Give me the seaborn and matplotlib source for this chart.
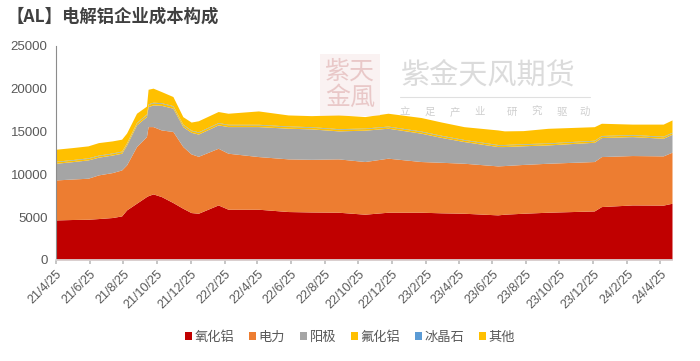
import matplotlib
matplotlib.use("Agg")
import matplotlib.pyplot as plt
import matplotlib.dates as mdates
import seaborn as sns
import pandas as pd
import numpy as np

# ---- data (cumulative tops, converted to components) ----
dates = ["2021-04-25", "2021-05-25", "2021-06-22", "2021-07-11", "2021-08-05",
         "2021-08-22", "2021-08-31", "2021-09-18", "2021-10-06", "2021-10-09",
         "2021-10-18", "2021-11-02", "2021-11-23", "2021-12-11", "2021-12-26",
         "2022-01-08", "2022-02-13", "2022-03-03", "2022-04-27", "2022-06-20",
         "2022-08-01", "2022-09-19", "2022-11-06", "2022-12-18", "2023-02-16",
         "2023-03-25", "2023-05-05", "2023-07-05", "2023-07-17", "2023-08-20",
         "2023-10-04", "2023-12-27", "2024-01-09", "2024-03-05", "2024-04-30",
         "2024-05-16"]
alumina = [4670, 4720, 4750, 4830, 4950, 5140, 5840, 6620, 7400, 7500,
           7710, 7400, 6700, 6030, 5530, 5450, 6420, 5920, 5920, 5650,
           5600, 5570, 5340, 5570, 5570, 5500, 5450, 5260, 5340, 5450,
           5570, 5720, 6230, 6420, 6400, 6620]
power = [4670, 4730, 4790, 5100, 5250, 5370, 5260, 6620, 7000, 8070,
         7860, 7780, 8300, 7210, 6850, 6650, 6620, 6540, 6150, 6150,
         6150, 6230, 6150, 6310, 5920, 5900, 5840, 5720, 5680, 5700,
         5720, 5770, 5840, 5770, 5750, 5960]
anode = [1950, 2030, 2140, 2070, 2050, 1950, 2330, 2530, 2340, 2330,
         2530, 2870, 2720, 2330, 2520, 2600, 2730, 3110, 3500, 3580,
         3550, 3270, 3660, 3500, 3310, 2900, 2530, 2260, 2220, 2180,
         2140, 2250, 2220, 2210, 2060, 2100]
alf3 = [180, 180, 180, 180, 180, 190, 200, 220, 240, 250,
        250, 240, 230, 210, 200, 200, 210, 210, 210, 200,
        200, 200, 190, 190, 190, 190, 180, 180, 180, 180,
        180, 180, 180, 180, 180, 180]
cryolite = [60, 60, 60, 60, 60, 60, 60, 70, 70, 70,
            70, 70, 70, 70, 60, 60, 60, 60, 60, 60,
            60, 60, 60, 60, 60, 60, 60, 60, 60, 60,
            60, 60, 60, 60, 60, 60]
other = [1400, 1400, 1400, 1460, 1410, 1390, 1130, 1070, 910, 1710,
         1640, 1300, 1060, 880, 940, 1290, 1290, 1290, 1560, 1290,
         1290, 1610, 1340, 1500, 1580, 1550, 1500, 1700, 1590, 1530,
         1700, 1580, 1430, 1220, 1410, 1430]

series_names = ["氧化铝", "电力", "阳极", "氟化铝", "冰晶石", "其他"]
tick_labels = ["21/4/25", "21/6/25", "21/8/25", "21/10/25", "21/12/25", "22/2/25",
               "22/4/25", "22/6/25", "22/8/25", "22/10/25", "22/12/25", "23/2/25",
               "23/4/25", "23/6/25", "23/8/25", "23/10/25", "23/12/25", "24/2/25",
               "24/4/25"]
yticks = [0, 5000, 10000, 15000, 20000, 25000]

colors = ["#C00000", "#ED7D31", "#A5A5A5", "#FFC000", "#5B9BD5", "#FFC000"]

df = pd.DataFrame({"date": pd.to_datetime(dates), "氧化铝": alumina, "电力": power,
                   "阳极": anode, "氟化铝": alf3, "冰晶石": cryolite, "其他": other})

sns.set_theme(style="white")
plt.rcParams["font.family"] = ["Noto Sans CJK SC", "DejaVu Sans"]

fig = plt.figure(figsize=(7.0, 3.61), dpi=100)
ax = fig.add_axes([0.08, 0.28, 0.88, 0.593])

x = mdates.date2num(df["date"])
ax.stackplot(x, [df[n].values for n in series_names], colors=colors,
             labels=series_names, linewidth=0, zorder=2)

ax.set_ylim(0, 25000)
ax.set_yticks(yticks)
ax.set_yticklabels([str(v) for v in yticks], fontsize=9.5, color="#595959",
                   family=["Liberation Sans", "DejaVu Sans"])
ax.set_xlim(mdates.date2num(pd.Timestamp("2021-04-25")), x[-1])
tick_pos = [mdates.date2num(pd.to_datetime("20" + t.split("/")[0] + "-" + t.split("/")[1] + "-" + t.split("/")[2]))
            for t in tick_labels]
ax.set_xticks(tick_pos)
ax.set_xticklabels(tick_labels, rotation=45, ha="right", rotation_mode="anchor",
                   fontsize=9, color="#595959", family=["Liberation Sans", "DejaVu Sans"])
ax.tick_params(axis="x", which="major", bottom=True, length=3, color="#BFBFBF", pad=3)
ax.tick_params(axis="y", length=0, pad=6)

for s in ["top", "right"]:
    ax.spines[s].set_visible(False)
ax.spines["left"].set_color("#8C8C8C")
ax.spines["bottom"].set_color("#D9D9D9")
ax.spines["left"].set_linewidth(0.8)
ax.grid(False)

# legend
leg = fig.legend(*ax.get_legend_handles_labels(), loc="center", bbox_to_anchor=(0.5, 0.065),
                 ncol=6, frameon=False, fontsize=9.5, handlelength=0.55, handleheight=0.55,
                 handletextpad=0.2, columnspacing=1.1)
for t in leg.get_texts():
    t.set_color("#595959")

# title
fig.text(0.01, 0.955, "【AL】电解铝企业成本构成", fontsize=12.5, fontweight="bold",
         color="#404040", ha="left", va="center")

# watermark
fig.text(0.572, 0.79, "紫金天风期货", fontsize=21, color="#BFBFBF", alpha=0.55,
         ha="left", va="center", zorder=5)
fig.add_artist(plt.Line2D([0.572, 0.843], [0.73, 0.73], color="#D9D9D9", lw=0.8, alpha=0.8))
slogan = ["立", "足", "产", "业", "研", "究", "驱", "动"]
slogan_x = [405, 430, 455, 480, 512, 537, 562, 585]
for ch, px in zip(slogan, slogan_x):
    fig.text(px / 700, 0.69, ch, fontsize=7.5, color="#BFBFBF", alpha=0.75,
             ha="center", va="center", zorder=5)
fig.text(0.50, 0.765, "紫天\n金風", fontsize=18, color="#D9A0A0", alpha=0.5,
         ha="center", va="center", linespacing=1.0, zorder=5,
         bbox=dict(boxstyle="square,pad=0.2", fc="#F2DCDC", ec="none", alpha=0.35))

fig.savefig("out.png", dpi=100)
